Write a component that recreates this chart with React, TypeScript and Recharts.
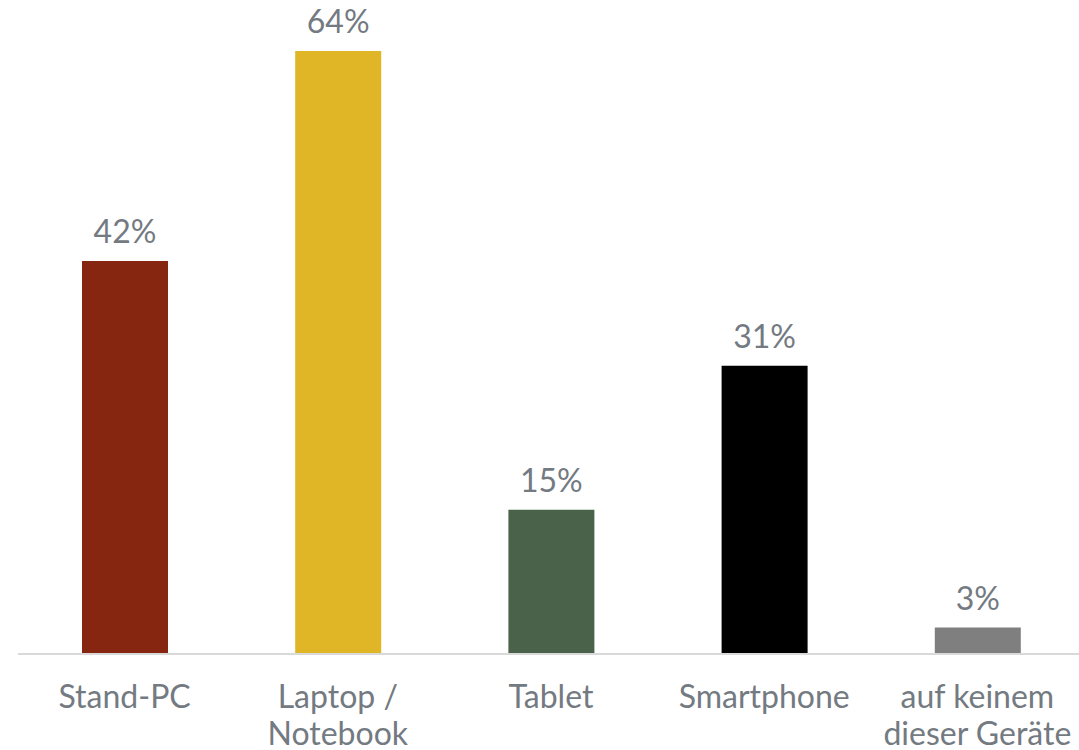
import { BarChart, Bar, XAxis, YAxis, Cell, LabelList } from 'recharts';

const categories = ['Stand-PC', 'Laptop /\nNotebook', 'Tablet', 'Smartphone', 'auf keinem\ndieser Geräte'];
const shares = [41.7, 64, 15.3, 30.6, 2.8];
const colors = ['#862611', '#e0b626', '#4a614a', '#000000', '#7f7f7f'];

const data = categories.map((name, i) => ({ name, value: shares[i] }));

const textColor = '#737a81';

function CategoryTick({ x, y, payload }: any) {
  const lines = String(payload.value).split('\n');
  return (
    <text x={x} y={y} textAnchor="middle" fill={textColor} fontSize={32} fontFamily="Lato">
      {lines.map((line, i) => (
        <tspan key={i} x={x} dy={i === 0 ? 54 : 37}>
          {line}
        </tspan>
      ))}
    </text>
  );
}

export default function App() {
  return (
    <div style={{ position: 'absolute', left: 0, top: 0, width: 1079, height: 750, overflow: 'hidden', background: '#fff' }}>
      <BarChart
        width={1084}
        height={750}
        data={data}
        margin={{ top: 51, right: 0, bottom: 0, left: 18 }}
        barSize={86}
      >
        <XAxis
          dataKey="name"
          axisLine={{ stroke: '#d9d9d9', strokeWidth: 2 }}
          tickLine={false}
          tickSize={0}
          tickMargin={0}
          height={96}
          interval={0}
          tick={<CategoryTick />}
        />
        <YAxis hide domain={[0, 64]} />
        <Bar dataKey="value" isAnimationActive={false}>
          {data.map((d, i) => (
            <Cell key={d.name} fill={colors[i]} />
          ))}
          <LabelList
            dataKey="value"
            position="top"
            offset={18}
            fill={textColor}
            fontSize={32}
            fontFamily="Lato"
            formatter={(v: any) => `${Math.round(Number(v))}%`}
          />
        </Bar>
      </BarChart>
    </div>
  );
}
